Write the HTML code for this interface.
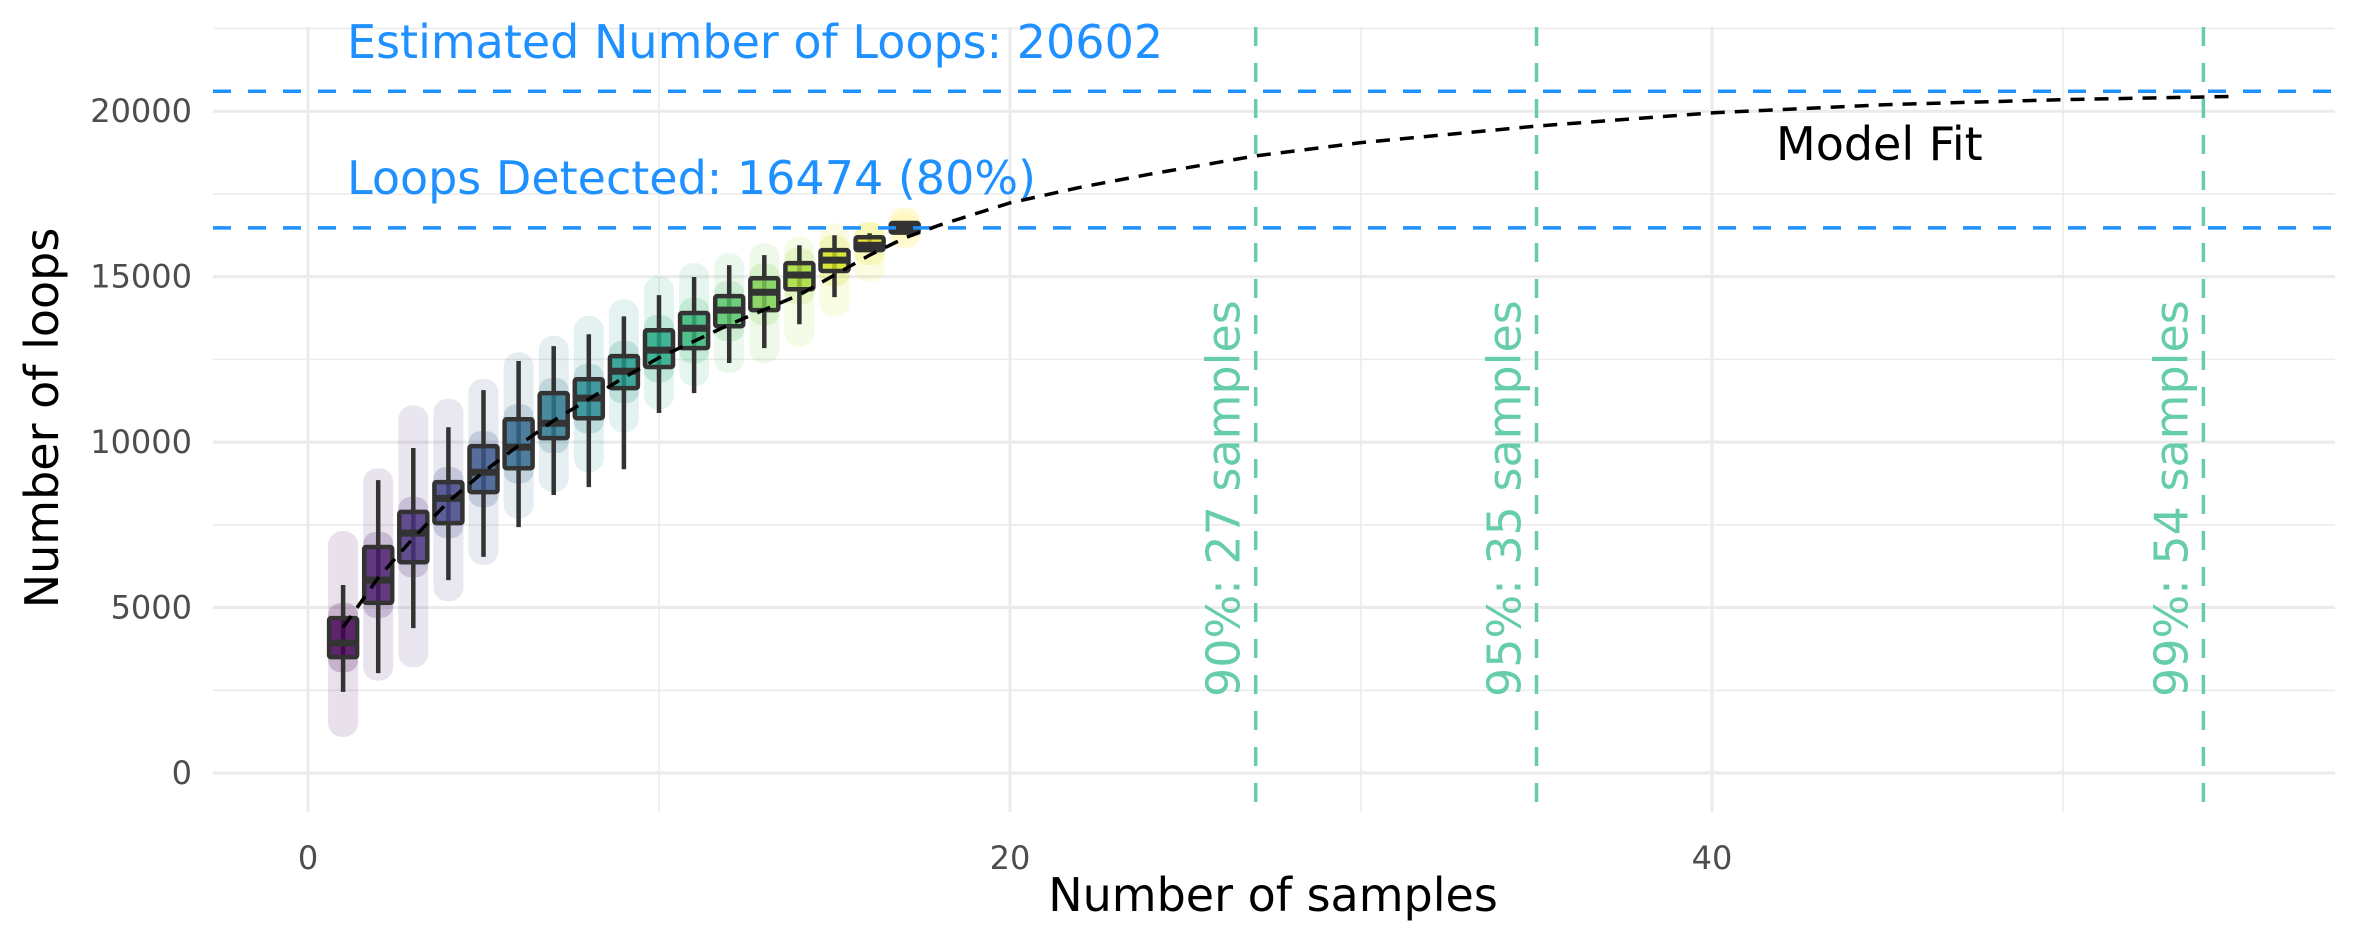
<!DOCTYPE html>
<html><head><meta charset="utf-8"><style>
html,body{margin:0;padding:0;background:#fff}
svg{display:block;font-family:"DejaVu Sans","Liberation Sans",sans-serif}
</style></head><body>
<svg id="chart" width="2362" height="944" viewBox="0 0 2362 944">
<g id="grid"></g>
<g id="clouds"></g>
<g id="boxes"></g>
<g id="refs"></g>
<g id="fit"></g>
<g id="axes"></g>
</svg>
<script>
const samples   = [1,2,3,4,5,6,7,8,9,10,11,12,13,14,15,16,17];
const whiskLow  = [2450,3020,4380,5830,6530,7430,8400,8640,9180,10880,11480,12390,12840,13560,14380,15800,16310];
const q1        = [3500,5140,6370,7550,8490,9210,10120,10720,11630,12270,12840,13500,13990,14620,15170,15800,16330];
const medians   = [3930,5830,7250,8300,9090,9850,10570,11330,12140,12780,13440,13990,14530,15050,15500,15950,16460];
const q3        = [4680,6830,7890,8790,9880,10690,11480,11900,12600,13380,13900,14410,14950,15410,15800,16190,16620];
const whiskHigh = [5680,8850,9820,10450,11570,12450,12900,13260,13800,14440,14990,15350,15650,15950,16250,16310,16650];
const ptMin     = [1300,3000,3400,5400,6500,7900,8700,9300,10500,11200,11900,12300,12600,13100,14000,15050,16350];
const ptMax     = [7100,9000,10900,11100,11700,12500,13000,13600,14100,14800,15200,15500,15800,16000,16400,16450,16700];
const fitX      = [1,2,3,4,5,6,7,8,9,10,12,14,16,17,18,20,22,24,27,30,35,40,45,50,55];
const fitY      = [4400,5900,7100,8200,9100,9900,10650,11300,11950,12550,13550,14450,15650,16170,16560,17230,17700,18100,18650,19050,19550,19950,20200,20350,20450];
const estimated = 20602;
const detected  = 16474;
const thresholds = [27,35,54];
const thresholdLabels = ["90%: 27 samples","95%: 35 samples","99%: 54 samples"];
const xTicks = [0,20,40];
const xMinor = [10,30,50];
const yTicks = [0,5000,10000,15000,20000];
const yMinor = [2500,7500,12500,17500,22500];

const NS="http://www.w3.org/2000/svg";
const X0=213,X1=2335,Y0=27,Y1=812;
const sx=v=>308+v*35.1;
const sy=v=>773-v*0.03309;
function el(tag,attrs,parent){const e=document.createElementNS(NS,tag);for(const k in attrs)e.setAttribute(k,attrs[k]);parent.appendChild(e);return e;}
const viridis=["#440154","#481a6c","#472f7d","#414487","#39568c","#31688e","#2a788e","#23888e","#1f988b","#22a884","#35b779","#54c568","#7ad151","#a5db36","#d2e21b","#e6e419","#fde725"];

const grid=document.getElementById('grid');
yMinor.forEach(v=>{const l=el('line',{x1:X0,x2:X1,y1:sy(v),y2:sy(v),stroke:'#ebebeb','stroke-width':1.6},grid);
});
xMinor.forEach(v=>{const l=el('line',{x1:sx(v),x2:sx(v),y1:Y0,y2:Y1,stroke:'#ebebeb','stroke-width':1.6},grid);
});
yTicks.forEach(v=>{const l=el('line',{x1:X0,x2:X1,y1:sy(v),y2:sy(v),stroke:'#ebebeb','stroke-width':3},grid);
});
xTicks.forEach(v=>{const l=el('line',{x1:sx(v),x2:sx(v),y1:Y0,y2:Y1,stroke:'#ebebeb','stroke-width':3},grid);
});

const clouds=document.getElementById('clouds');
samples.forEach((n,i)=>{const c=el('rect',{x:sx(n)-15,y:sy(ptMax[i])-7,width:30,height:sy(ptMin[i])-sy(ptMax[i])+14,rx:14,fill:viridis[i],'fill-opacity':0.12},clouds);

const d=el('rect',{x:sx(n)-15,y:sy(q3[i])-15,width:30,height:sy(q1[i])-sy(q3[i])+30,rx:12,fill:viridis[i],'fill-opacity':0.2},clouds);
});

const boxes=document.getElementById('boxes');
samples.forEach((n,i)=>{const g=el('g',{},boxes);

el('line',{x1:sx(n),x2:sx(n),y1:sy(whiskHigh[i]),y2:sy(whiskLow[i]),stroke:'#333','stroke-width':4.5},g);
el('rect',{x:sx(n)-14,y:sy(q3[i]),width:28,height:Math.max(2,sy(q1[i])-sy(q3[i])),fill:viridis[i],'fill-opacity':0.8,stroke:'#333','stroke-width':4.5,rx:2},g);
el('line',{x1:sx(n)-14,x2:sx(n)+14,y1:sy(medians[i]),y2:sy(medians[i]),stroke:'#333','stroke-width':7},g);});

const refs=document.getElementById('refs');
[estimated,detected].forEach((v,i)=>{const l=el('line',{x1:X0,x2:X1,y1:sy(v),y2:sy(v),stroke:'#1e90ff','stroke-width':3.5,'stroke-dasharray':'18 17'},refs);
});
thresholds.forEach((t,i)=>{const l=el('line',{x1:sx(t),x2:sx(t),y1:Y0,y2:Y1,stroke:'#66cdaa','stroke-width':3.5,'stroke-dasharray':'19 17'},refs);

const tx=el('text',{x:0,y:0,transform:`translate(${sx(t)-16},697) rotate(-90)`,fill:'#66cdaa','font-size':46},refs);
tx.textContent=thresholdLabels[i];
});
const t1=el('text',{x:347,y:58,fill:'#1e90ff','font-size':46},refs);
t1.textContent='Estimated Number of Loops: '+estimated;

const t2=el('text',{x:347,y:194,fill:'#1e90ff','font-size':46},refs);
t2.textContent='Loops Detected: '+detected+' (80%)';


const fit=document.getElementById('fit');
const p=el('polyline',{points:fitX.map((x,i)=>sx(x)+','+sy(fitY[i])).join(' '),fill:'none',stroke:'#000','stroke-width':3.5,'stroke-dasharray':'14 10','stroke-linejoin':'round'},fit);

const mf=el('text',{x:1776,y:160,fill:'#000','font-size':46},fit);
mf.textContent='Model Fit';


const axes=document.getElementById('axes');
yTicks.forEach(v=>{const t=el('text',{x:192,y:sy(v)+11,'text-anchor':'end',fill:'#4d4d4d','font-size':32},axes);
t.textContent=v;});
xTicks.forEach(v=>{const t=el('text',{x:sx(v),y:869,'text-anchor':'middle',fill:'#4d4d4d','font-size':32},axes);
t.textContent=v;});
const xt=el('text',{x:1273,y:911,'text-anchor':'middle',fill:'#000','font-size':46},axes);
xt.textContent='Number of samples';
const yt=el('text',{x:0,y:0,transform:'translate(58,418) rotate(-90)','text-anchor':'middle',fill:'#000','font-size':46},axes);
yt.textContent='Number of loops';
</script>
</body></html>
